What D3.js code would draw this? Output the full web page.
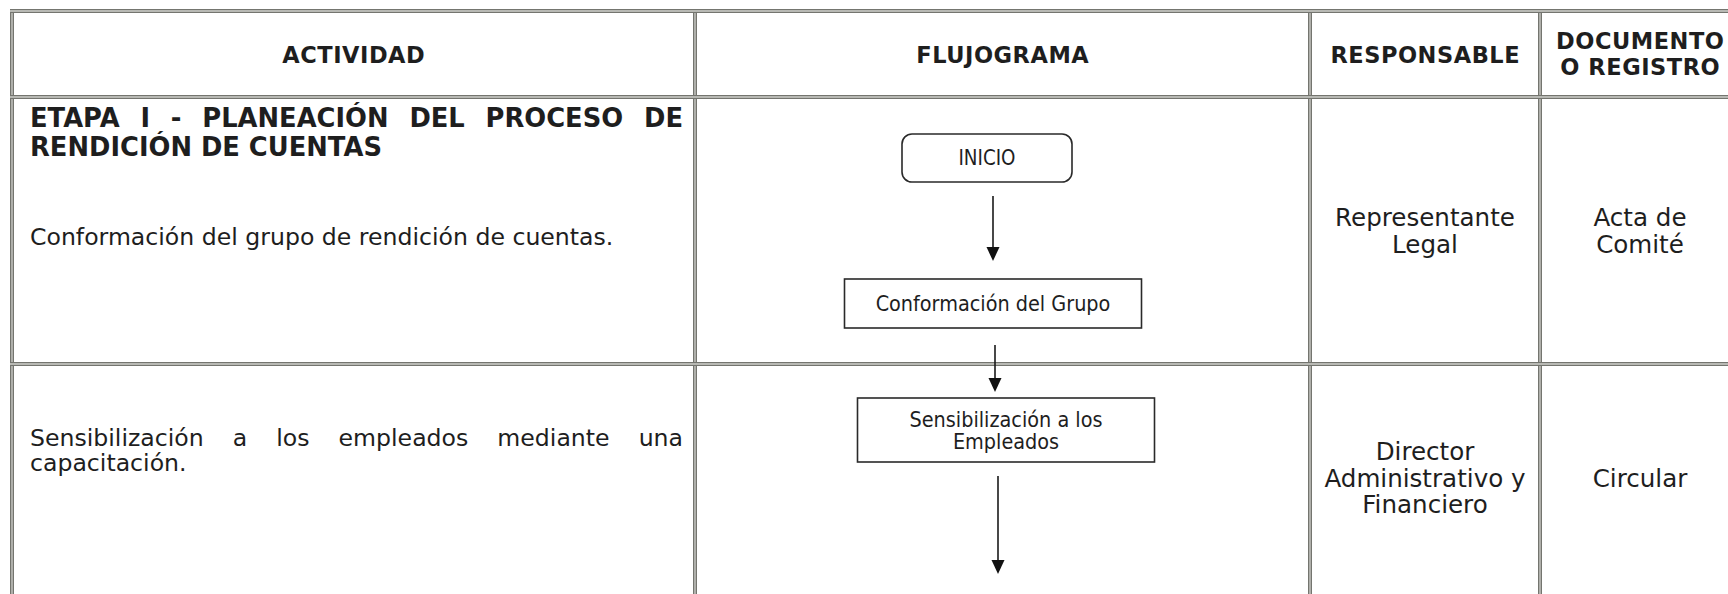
<!DOCTYPE html>
<html><head><meta charset="utf-8">
<script src="https://cdn.jsdelivr.net/npm/d3@7"></script>
<style>html,body{margin:0;padding:0;background:#fff;overflow:hidden}</style>
</head><body><svg id="c" width="1728" height="594"></svg>
<script>
// ---------- data ----------
const headers = [["ACTIVIDAD"], ["FLUJOGRAMA"], ["RESPONSABLE"], ["DOCUMENTO", "O REGISTRO"]];
const etapa = ["ETAPA I - PLANEACIÓN DEL PROCESO DE", "RENDICIÓN DE CUENTAS"];
const actividades = [["Conformación del grupo de rendición de cuentas."],
                     ["Sensibilización a los empleados mediante una", "capacitación."]];
const responsables = [["Representante", "Legal"], ["Director", "Administrativo y", "Financiero"]];
const documentos = [["Acta de", "Comité"], ["Circular"]];
const flowNodes = [
  {shape: "terminal", label: ["INICIO"]},
  {shape: "process", label: ["Conformación del Grupo"]},
  {shape: "process", label: ["Sensibilización a los", "Empleados"]}
];

// ---------- layout ----------
const colEdges = [12, 695, 1310, 1540, 1740];
const rowEdges = [11, 97, 364, 600];
const x = d3.scaleLinear().domain([0, 1, 2, 3, 4]).range(colEdges);
const y = d3.scaleLinear().domain([0, 1, 2, 3]).range(rowEdges);

const nodeLayout = [
  {cx: 987, y0: 134, y1: 182, w: 170, rx: 10},
  {cx: 993, y0: 279, y1: 328, w: 297, rx: 0},
  {cx: 1006, y0: 398, y1: 462, w: 297, rx: 0}
];
const arrowLayout = [
  {x: 993, y0: 196, y1: 261},
  {x: 995, y0: 345, y1: 392},
  {x: 998, y0: 476, y1: 574}
];

const HF = "'DejaVu Sans', Verdana, sans-serif";
const BF = "'DejaVu Sans', Verdana, sans-serif";
const FF = "'DejaVu Sans Condensed', 'DejaVu Sans', sans-serif";
const INK = "#1e1e1e";

const svg = d3.select("#c");
svg.append("rect").attr("width", 1728).attr("height", 594).attr("fill", "#fff");

function measure(str, fam, weight, size, stretch) {
  const t = svg.append("text").attr("font-family", fam).attr("font-weight", weight)
    .attr("font-size", size).style("font-stretch", stretch || "normal").text(str);
  const w = t.node().getComputedTextLength();
  t.remove();
  return w;
}
const headerFS = 22.5;
const headerLS = Math.max(0, (143 - measure("ACTIVIDAD", HF, "bold", headerFS)) / 9);
const bodyFS = 100 * 180 / measure("Representante", BF, "normal", 100);
const leftFS = bodyFS * 0.96;
const boldFS = 100 * 352 / measure("RENDICIÓN DE CUENTAS", BF, "bold", 100);
const flowFS = 100 * 235 / measure("Conformación del Grupo", FF, "normal", 100, "condensed");

function lines(g, arr, cx, cy, fs, lh, fam, weight, stretch, anchor, ls) {
  const n = arr.length;
  arr.forEach((s, i) => {
    const yc = cy + (i - (n - 1) / 2) * lh;
    g.append("text").attr("x", cx).attr("y", yc + 0.36 * fs)
      .attr("text-anchor", anchor || "middle")
      .attr("font-family", fam).attr("font-weight", weight).attr("font-size", fs)
      .style("font-stretch", stretch || "normal")
      .style("letter-spacing", (ls || 0) + "px")
      .attr("fill", INK).text(s);
  });
}
function justify(g, str, x0, x1, yc, fs, fam, weight) {
  const words = str.split(" ");
  const ws = words.map(w => measure(w, fam, weight, fs));
  const gap = (x1 - x0 - d3.sum(ws)) / (words.length - 1);
  let cx = x0;
  words.forEach((w, i) => {
    g.append("text").attr("x", cx).attr("y", yc + 0.36 * fs)
      .attr("font-family", fam).attr("font-weight", weight).attr("font-size", fs)
      .attr("fill", INK).text(w);
    cx += ws[i] + gap;
  });
}

// ---------- grid (double lines) ----------
const grid = svg.append("g");
function dbl(x1, y1, x2, y2) {
  grid.append("line").attr("x1", x1).attr("y1", y1).attr("x2", x2).attr("y2", y2)
    .attr("stroke", "#74756f").attr("stroke-width", 4);
  grid.append("line").attr("x1", x1).attr("y1", y1).attr("x2", x2).attr("y2", y2)
    .attr("stroke", "#cfd0cb").attr("stroke-width", 1.3);
}
d3.range(colEdges.length).forEach(i => dbl(x(i), y(0) - 2, x(i), y(3)));
d3.range(rowEdges.length).forEach(i => dbl(x(0) - 2, y(i), x(4), y(i)));

// ---------- header ----------
const hg = svg.append("g");
headers.forEach((h, i) => {
  lines(hg, h, (x(i) + x(i + 1)) / 2 + headerLS / 2, i === 3 ? 54 : 55, headerFS, 26.5, HF, "bold", null, "middle", headerLS);
});

// ---------- column 1 ----------
const ag = svg.append("g");
justify(ag, etapa[0], 30, 683, 118, boldFS, BF, "bold");
lines(ag, [etapa[1]], 30, 147, boldFS, 29, BF, "bold", null, "start");
lines(ag, actividades[0], 30, 237, leftFS, 27, BF, "normal", null, "start");
justify(ag, actividades[1][0], 30, 683, 438, leftFS, BF, "normal");
lines(ag, [actividades[1][1]], 30, 463, leftFS, 27, BF, "normal", null, "start");

// ---------- columns 3,4 ----------
const rg = svg.append("g");
responsables.forEach((r, i) => {
  lines(rg, r, (x(2) + x(3)) / 2, (y(i + 1) + y(i + 2)) / 2 - (i === 1 ? 4 : 0), bodyFS, 26.5, BF, "normal");
});
documentos.forEach((d, i) => {
  lines(rg, d, (x(3) + x(4)) / 2, (y(i + 1) + y(i + 2)) / 2 - (i === 1 ? 4 : 0), bodyFS, 26.5, BF, "normal");
});

// ---------- flowchart ----------
const fg = svg.append("g");
flowNodes.forEach((n, i) => {
  const L = nodeLayout[i];
  fg.append("rect").attr("x", L.cx - L.w / 2).attr("y", L.y0).attr("width", L.w)
    .attr("height", L.y1 - L.y0).attr("rx", L.rx).attr("fill", "#fff")
    .attr("stroke", "#2a2a2a").attr("stroke-width", 1.6);
  lines(fg, n.label, L.cx, (L.y0 + L.y1) / 2, flowFS * (n.shape === "terminal" ? 0.95 : 1), 22, FF, "normal", "condensed");
});
arrowLayout.forEach(a => {
  const hl = 14, hw = 6.5;
  fg.append("line").attr("x1", a.x).attr("y1", a.y0).attr("x2", a.x).attr("y2", a.y1 - hl + 1)
    .attr("stroke", "#1a1a1a").attr("stroke-width", 1.6);
  fg.append("path").attr("d", d3.line()([[a.x - hw, a.y1 - hl], [a.x + hw, a.y1 - hl], [a.x, a.y1]]) + "Z")
    .attr("fill", "#111");
});
</script>
</body></html>
